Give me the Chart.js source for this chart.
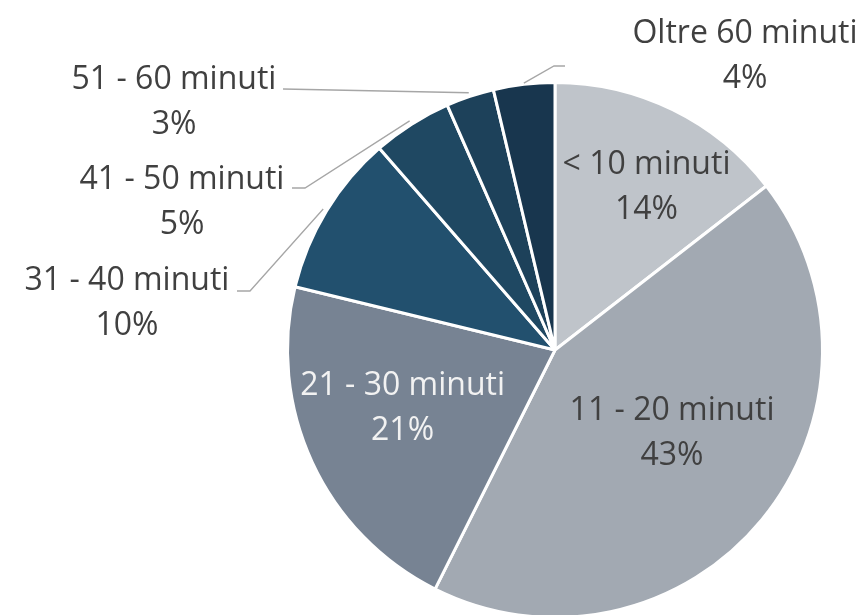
<!DOCTYPE html>
<html>
<head>
<meta charset="utf-8">
<script src="https://cdn.jsdelivr.net/npm/chart.js@4/dist/chart.umd.min.js"></script>
<style>
html,body{margin:0;padding:0;background:#fff;overflow:hidden;}
#wrap{width:864px;height:615px;position:relative;overflow:hidden;}
</style>
</head>
<body>
<div id="wrap"><canvas id="c" width="864" height="630"></canvas></div>
<script>
const categories = ["< 10 minuti", "11 - 20 minuti", "21 - 30 minuti", "31 - 40 minuti", "41 - 50 minuti", "51 - 60 minuti", "Oltre 60 minuti"];
// slice shares (percent)
const shares = [14.5, 42.9, 21.4, 9.8, 4.8, 2.9, 3.7];
// percentages as printed on the labels
const percentLabels = [14, 43, 21, 10, 5, 3, 4];
const sliceColors = ["#BFC4CA", "#A2A9B2", "#778393", "#22506E", "#1F4862", "#1D415A", "#18364E"];
const labelColors = ["#404040", "#404040", "#F2F2F2", "#404040", "#404040", "#404040", "#404040"];

const FONT = '"Open Sans", sans-serif';
const FSIZE = 32;
const LINE_GAP = 45;
const CAP_HALF = 11.4;

// inside labels: offset from pie centre in radius units; outside labels: text centre + leader elbow
const labelLayout = [
  {inside:true, fx:0.344, fy:-0.620},
  {inside:true, fx:0.440, fy:0.305},
  {inside:true, fx:-0.573, fy:0.211},
  {inside:false, tx:127, ty:279, line:[[237,291],[250,291]], anchorR:1.02},
  {inside:false, tx:182, ty:178, line:[[292,188],[305,188]], anchorR:1.02},
  {inside:false, tx:174, ty:78, line:[[283,89]], anchorR:1.02},
  {inside:false, tx:745, ty:32, line:[[565,66],[554,66]], anchorR:1.01}
];

const labelPlugin = {
  id: 'pieLabels',
  afterDatasetsDraw(chart) {
    const ctx = chart.ctx;
    const meta = chart.getDatasetMeta(0);
    ctx.save();
    ctx.font = FSIZE + 'px ' + FONT;
    ctx.textAlign = 'center';
    ctx.textBaseline = 'alphabetic';
    meta.data.forEach((arc, i) => {
      const L = labelLayout[i];
      const mid = (arc.startAngle + arc.endAngle) / 2;
      const R = arc.outerRadius - 1.5;
      const lines = [categories[i], percentLabels[i] + '%'];
      let cx, cy;
      if (L.inside) {
        cx = arc.x + L.fx * R;
        cy = arc.y + L.fy * R - LINE_GAP / 2;
      } else {
        const ax = arc.x + Math.cos(mid) * R * L.anchorR;
        const ay = arc.y + Math.sin(mid) * R * L.anchorR;
        ctx.strokeStyle = '#A6A6A6';
        ctx.lineWidth = 1.3;
        ctx.beginPath();
        ctx.moveTo(L.line[0][0], L.line[0][1]);
        for (let k = 1; k < L.line.length; k++) ctx.lineTo(L.line[k][0], L.line[k][1]);
        ctx.lineTo(ax, ay);
        ctx.stroke();
        cx = L.tx; cy = L.ty;
      }
      ctx.fillStyle = labelColors[i];
      ctx.fillText(lines[0], cx, cy + CAP_HALF);
      ctx.fillText(lines[1], cx, cy + LINE_GAP + CAP_HALF);
    });
    ctx.restore();
  }
};

new Chart(document.getElementById('c'), {
  type: 'pie',
  data: {
    labels: categories,
    datasets: [{
      data: shares,
      backgroundColor: sliceColors,
      borderColor: '#FFFFFF',
      borderWidth: 3
    }]
  },
  options: {
    responsive: false,
    animation: false,
    layout: { padding: { top: 81, bottom: 11, left: 286, right: 40 } },
    plugins: {
      legend: { display: false },
      tooltip: { enabled: false },
      title: { display: false }
    }
  },
  plugins: [labelPlugin]
});
</script>
</body>
</html>
